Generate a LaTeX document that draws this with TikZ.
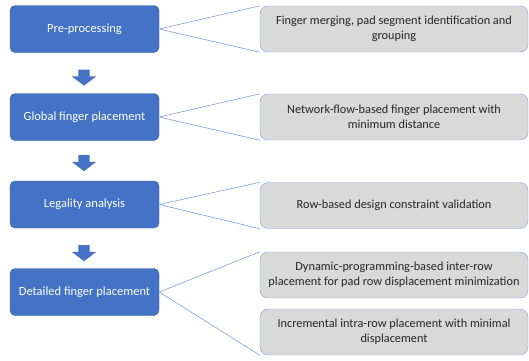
\documentclass[tikz,border=0pt]{standalone}
\usepackage{fontspec}
\setmainfont{Carlito}
\usetikzlibrary{shapes.arrows}
\definecolor{stepblue}{HTML}{4472C4}
\definecolor{notegray}{HTML}{D9D9D9}
\definecolor{noteline}{HTML}{7F9FD6}
\begin{document}
\begin{tikzpicture}[x=1pt, y=-1pt,
    stage/.style={draw=stepblue!85!black, fill=stepblue, rounded corners=5pt, text=white, align=center, font=\fontsize{12.5}{15}\selectfont, minimum width=149pt, minimum height=47pt},
    note/.style={draw=noteline, fill=notegray, rounded corners=8pt, align=center, text=black!85, font=\fontsize{12.3}{15}\selectfont, inner sep=0pt, minimum width=268pt, minimum height=46pt},
    flow/.style={single arrow, fill=stepblue, draw=none, shape border rotate=270, minimum width=24pt, minimum height=16pt, single arrow head extend=6.5pt, single arrow tip angle=105, inner sep=0pt},
    link/.style={draw=noteline, line width=0.6pt}]
    \useasboundingbox (0,0) rectangle (529,360);
    \node[stage] (pre) at (84.5,29) {Pre-processing};
    \node[stage] (global) at (84.5,117) {Global finger placement};
    \node[stage] (legal) at (84.5,204.5) {Legality analysis};
    \node[stage] (detail) at (84.5,292) {Detailed finger placement};
    \node[flow] (a1) at (84,75.5) {\hspace*{11pt}};
    \node[flow] (a2) at (84,161) {\hspace*{11pt}};
    \node[flow] (a3) at (84,251) {\hspace*{11pt}};
    \node[note] (merge) at (394,29) {Finger merging, pad segment identification and\\grouping};
    \node[note] (netflow) at (394,117) {Network-flow-based finger placement with\\minimum distance};
    \node[note] (rowcheck) at (394,205.5) {Row-based design constraint validation};
    \node[note] (dp) at (394,275) {Dynamic-programming-based inter-row\\placement for pad row displacement minimization};
    \node[note] (intra) at (394,332) {Incremental intra-row placement with minimal\\displacement};
    \draw[link] (merge.north west) -- (pre.east) -- (merge.south west);
    \draw[link] (netflow.north west) -- (global.east) -- (netflow.south west);
    \draw[link] (rowcheck.north west) -- (legal.east) -- (rowcheck.south west);
    \draw[link] (dp.north west) -- (detail.east) -- (intra.south west);
\end{tikzpicture}
\end{document}
